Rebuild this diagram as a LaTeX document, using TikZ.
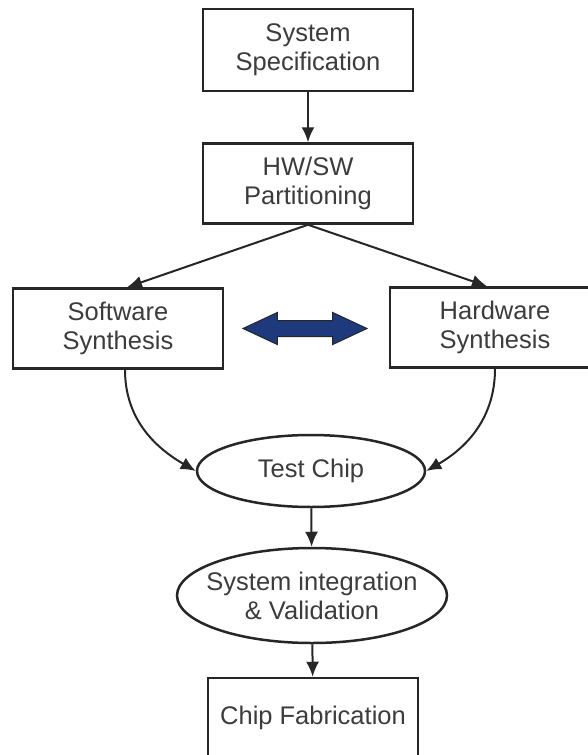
\documentclass[tikz,border=0pt]{standalone}
\usepackage{fontspec}
\setmainfont{Liberation Sans}
\usetikzlibrary{shapes.geometric,shapes.arrows,arrows.meta}
\definecolor{navy}{HTML}{1E3A7C}
\definecolor{ink}{HTML}{262626}

\begin{document}
\begin{tikzpicture}[x=1pt,y=-1pt,
	box/.style={draw=ink,line width=2.5pt,minimum width=210pt,minimum height=80pt,align=center,text=ink!90,font=\fontsize{25.5}{29}\selectfont},
	oval/.style={box,ellipse,inner xsep=-15pt,inner ysep=0pt},
	flow/.style={draw=ink,line width=2pt,-{Latex[length=15pt,width=13pt]}}]
\useasboundingbox[fill=white] (0,0) rectangle (588,755);

\node[box,minimum height=82pt] (spec) at (308,50) {System\\Specification};
\node[box] (part) at (308,183.5) {HW/SW\\Partitioning};
\node[box] (sw) at (118,328.5) {Software\\Synthesis};
\node[box] (hw) at (495,327.5) {Hardware\\Synthesis};
\node[oval,minimum width=228pt,minimum height=72pt] (test) at (311,471) {Test Chip};
\node[oval,minimum width=270pt,minimum height=95pt] (integ) at (312,595.5) {System integration\\\& Validation};
\node[box] (fab) at (313,718) {Chip Fabrication};

\node[double arrow,draw=ink,fill=navy,line width=1pt,inner xsep=0pt,inner ysep=7.5pt,minimum height=124pt,minimum width=31pt,
	double arrow head extend=8pt,double arrow tip angle=50] (swap) at (305,328.5) {};

\draw[flow] (spec) -- (part);
\draw[flow] (part.south) -- ([xshift=9pt]sw.north);
\draw[flow] (part.south) -- ([xshift=-8pt]hw.north);
\draw[flow] ([xshift=7pt]sw.south) to[out=-90,in=150] (test.west);
\draw[flow] (hw.south) to[out=-90,in=30] (test.east);
\draw[flow] (test) -- (integ);
\draw[flow] (integ) -- (fab);
\end{tikzpicture}
\end{document}
